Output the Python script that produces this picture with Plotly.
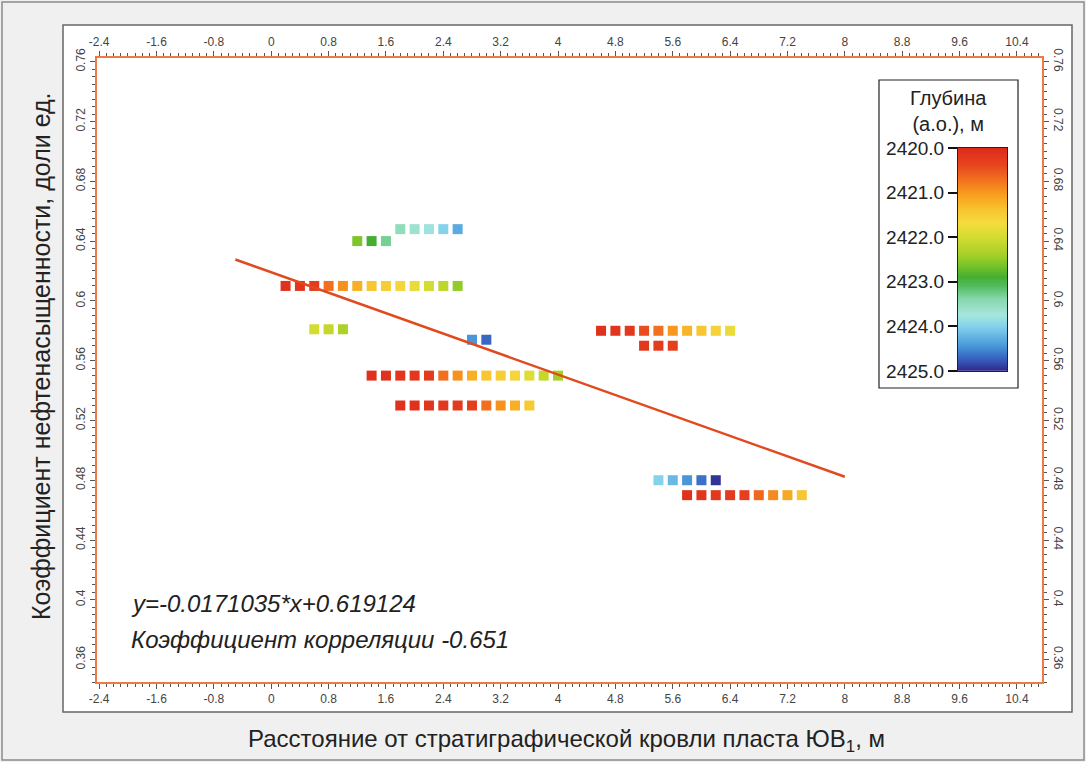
import plotly.graph_objects as go

# ---- measured samples: distance from stratigraphic top (m), oil saturation, depth (m a.s.l.)
row_a_x = [1.8, 2.0, 2.2, 2.4, 2.6]
row_a_y = [0.648] * 5
row_a_d = [2423.5, 2423.65, 2423.8, 2424.0, 2424.3]

row_b_x = [1.2, 1.4, 1.6]
row_b_y = [0.640] * 3
row_b_d = [2422.6, 2422.9, 2423.3]

row_c_x = [0.2, 0.4, 0.6, 0.8, 1.0, 1.2, 1.4, 1.6, 1.8, 2.0, 2.2, 2.4, 2.6]
row_c_y = [0.610] * 13
row_c_d = [2420.1, 2420.15, 2420.25, 2420.7, 2420.95, 2421.2, 2421.4, 2421.5,
           2421.6, 2421.8, 2422.0, 2422.2, 2422.5]

row_d_x = [0.6, 0.8, 1.0]
row_d_y = [0.581] * 3
row_d_d = [2422.0, 2422.15, 2422.35]

row_e_x = [2.8, 3.0]
row_e_y = [0.574] * 2
row_e_d = [2424.45, 2424.7]

row_f_x = [1.4, 1.6, 1.8, 2.0, 2.2, 2.4, 2.6, 2.8, 3.0, 3.2, 3.4, 3.6, 3.8, 4.0]
row_f_y = [0.550] * 14
row_f_d = [2420.1, 2420.1, 2420.15, 2420.2, 2420.25, 2420.7, 2420.95, 2421.2,
           2421.4, 2421.5, 2421.6, 2421.9, 2422.15, 2422.4]

row_g_x = [1.8, 2.0, 2.2, 2.4, 2.6, 2.8, 3.0, 3.2, 3.4, 3.6]
row_g_y = [0.530] * 10
row_g_d = [2420.1, 2420.1, 2420.15, 2420.2, 2420.25, 2420.3, 2420.7, 2420.95,
           2421.2, 2421.45]

row_h_x = [4.6, 4.8, 5.0, 5.2, 5.4, 5.6, 5.8, 6.0, 6.2, 6.4]
row_h_y = [0.580] * 10
row_h_d = [2420.1, 2420.15, 2420.2, 2420.45, 2420.7, 2421.0, 2421.25, 2421.4,
           2421.55, 2421.8]

row_i_x = [5.2, 5.4, 5.6]
row_i_y = [0.570] * 3
row_i_d = [2420.2, 2420.25, 2420.3]

row_j_x = [5.4, 5.6, 5.8, 6.0, 6.2]
row_j_y = [0.480] * 5
row_j_d = [2424.0, 2424.2, 2424.45, 2424.65, 2424.95]

row_k_x = [5.8, 6.0, 6.2, 6.4, 6.6, 6.8, 7.0, 7.2, 7.4]
row_k_y = [0.470] * 9
row_k_d = [2420.1, 2420.15, 2420.2, 2420.25, 2420.3, 2420.65, 2420.9, 2421.15, 2421.4]

# ---- linear fit reported for the samples
fit_slope = -0.0171035
fit_intercept = 0.619124
fit_r = -0.651
fit_x = [-0.5, 8.0]

# ---- axis ticks
x_ticks = [-2.4, -1.6, -0.8, 0, 0.8, 1.6, 2.4, 3.2, 4, 4.8, 5.6, 6.4, 7.2, 8, 8.8, 9.6, 10.4]
x_tick_text = ["-2.4", "-1.6", "-0.8", "0", "0.8", "1.6", "2.4", "3.2", "4", "4.8",
               "5.6", "6.4", "7.2", "8", "8.8", "9.6", "10.4"]
y_ticks = [0.36, 0.40, 0.44, 0.48, 0.52, 0.56, 0.60, 0.64, 0.68, 0.72, 0.76]
y_tick_text = ["0.36", "0.4", "0.44", "0.48", "0.52", "0.56", "0.6", "0.64", "0.68",
               "0.72", "0.76"]
depth_ticks = [2420, 2421, 2422, 2423, 2424, 2425]
depth_tick_text = ["2420.0", "2421.0", "2422.0", "2423.0", "2424.0", "2425.0"]
depth_min, depth_max = 2420.0, 2425.0

colorscale = [
    [0.00, "#dc2a1c"], [0.08, "#e8461e"], [0.15, "#f2761e"], [0.21, "#f89e1e"],
    [0.28, "#f8c630"], [0.34, "#f4dc3e"], [0.40, "#d4dc30"], [0.48, "#a6d028"],
    [0.54, "#6cc02a"], [0.58, "#44ae32"], [0.62, "#52bc5e"], [0.68, "#88d8ae"],
    [0.75, "#a6e6dc"], [0.80, "#86d2ec"], [0.88, "#4ca0dc"], [0.94, "#3868c4"],
    [1.00, "#2e2a8e"],
]

xs = (row_a_x + row_b_x + row_c_x + row_d_x + row_e_x + row_f_x + row_g_x
      + row_h_x + row_i_x + row_j_x + row_k_x)
ys = (row_a_y + row_b_y + row_c_y + row_d_y + row_e_y + row_f_y + row_g_y
      + row_h_y + row_i_y + row_j_y + row_k_y)
ds = (row_a_d + row_b_d + row_c_d + row_d_d + row_e_d + row_f_d + row_g_d
      + row_h_d + row_i_d + row_j_d + row_k_d)

W, H = 1086, 762
ML, MR, MT, MB = 97, 44, 58, 80
PW, PH = W - ML - MR, H - MT - MB


def px(xp):
    return (xp - ML) / PW


def py(yp):
    return (H - MB - yp) / PH


FONT = "Liberation Sans, Arial, sans-serif"
AXIS_LINE = "#ef7a45"
TICK_COLOR = "#555555"

fig = go.Figure()

fig.add_trace(go.Scatter(
    x=xs, y=ys, mode="markers",
    marker=dict(symbol="square", size=10, color=ds, colorscale=colorscale,
                cmin=depth_min, cmax=depth_max, line=dict(width=0)),
    showlegend=False, hoverinfo="x+y",
))

fig.add_trace(go.Scatter(
    x=fit_x, y=[fit_slope * v + fit_intercept for v in fit_x],
    mode="lines", line=dict(color="#e04a1e", width=2.5),
    showlegend=False, hoverinfo="skip",
))

# empty trace so the mirrored top/right axes get their own subplot
fig.add_trace(go.Scatter(x=[], y=[], xaxis="x2", yaxis="y2", showlegend=False,
                         hoverinfo="skip"))

# depth ramp drawn as a one-column heatmap on its own small axes
ramp = [depth_min + i * 0.01 for i in range(int((depth_max - depth_min) / 0.01) + 1)]
fig.add_trace(go.Heatmap(
    z=[[v] for v in ramp], x=[0], y=ramp, colorscale=colorscale,
    zmin=depth_min, zmax=depth_max, showscale=False,
    xaxis="x3", yaxis="y3", hoverinfo="skip",
))

common_x = dict(
    range=[-2.43, 10.75], tickmode="array", tickvals=x_ticks, ticktext=x_tick_text,
    ticks="outside", ticklen=5, tickwidth=1, tickcolor=TICK_COLOR,
    minor=dict(dtick=0.1, tick0=0, ticks="outside", ticklen=3, tickcolor=TICK_COLOR),
    showline=True, linecolor=AXIS_LINE, linewidth=1.5, showgrid=False, zeroline=False,
    tickfont=dict(family=FONT, size=12, color="#444444"),
)
common_y = dict(
    range=[0.345, 0.7625], tickmode="array", tickvals=y_ticks, ticktext=y_tick_text,
    ticks="outside", ticklen=5, tickwidth=1, tickcolor=TICK_COLOR,
    minor=dict(dtick=0.005, tick0=0, ticks="outside", ticklen=3, tickcolor=TICK_COLOR),
    showline=True, linecolor=AXIS_LINE, linewidth=1.5, showgrid=False, zeroline=False,
    tickfont=dict(family=FONT, size=12, color="#444444"),
)

fig.update_layout(
    width=W, height=H,
    margin=dict(l=ML, r=MR, t=MT, b=MB, pad=0),
    paper_bgcolor="#f0f0f0", plot_bgcolor="#ffffff",
    xaxis=dict(**common_x, side="bottom", anchor="y"),
    xaxis2=dict(**common_x, side="top", overlaying="x", matches="x", anchor="y2"),
    yaxis=dict(**common_y, side="left", tickangle=-90, anchor="x"),
    yaxis2=dict(**common_y, side="right", tickangle=90, overlaying="y", matches="y",
                anchor="x2"),
    xaxis3=dict(domain=[px(958), px(1007)], anchor="y3", range=[-0.5, 0.5],
                showticklabels=False, ticks="", showgrid=False, zeroline=False,
                showline=True, mirror=True, linecolor="#222222", linewidth=1),
    yaxis3=dict(domain=[py(371), py(148)], anchor="x3", range=[depth_max, depth_min],
                tickmode="array", tickvals=depth_ticks, ticktext=depth_tick_text,
                ticks="outside", ticklen=9, tickwidth=2, tickcolor="#111111",
                tickfont=dict(family=FONT, size=19, color="#222222"),
                showgrid=False, zeroline=False,
                showline=True, mirror=True, linecolor="#222222", linewidth=1),
    showlegend=False,
    shapes=[
        # outer page frame
        dict(type="rect", xref="paper", yref="paper", layer="below",
             x0=px(2), x1=px(1084), y0=py(760), y1=py(2),
             line=dict(color="#8a8a8a", width=1.5), fillcolor="rgba(0,0,0,0)"),
        # white chart panel
        dict(type="rect", xref="paper", yref="paper", layer="below",
             x0=px(63), x1=px(1072), y0=py(712), y1=py(25),
             line=dict(color="#666666", width=1.5), fillcolor="#ffffff"),
        # depth scale box
        dict(type="rect", xref="paper", yref="paper", layer="below",
             x0=px(879), x1=px(1018), y0=py(388), y1=py(80),
             line=dict(color="#222222", width=1.2), fillcolor="#ffffff"),
    ],
    annotations=[
        dict(xref="paper", yref="paper", x=px(948), y=py(111), showarrow=False,
             text="Глубина<br>(а.о.), м", align="center",
             xanchor="center", yanchor="middle",
             font=dict(family=FONT, size=20, color="#222222")),
        dict(xref="paper", yref="paper", x=px(129), y=py(603), showarrow=False,
             text=f"y={fit_slope}*x+{fit_intercept}", xanchor="left", yanchor="middle",
             font=dict(family=FONT, size=24, color="#222222", style="italic")),
        dict(xref="paper", yref="paper", x=px(129), y=py(639), showarrow=False,
             text=f"Коэффициент корреляции {fit_r}", xanchor="left", yanchor="middle",
             font=dict(family=FONT, size=24, color="#222222", style="italic")),
        dict(xref="paper", yref="paper", x=px(41), y=py(356), showarrow=False,
             text="Коэффициент нефтенасыщенности, доли ед.", textangle=-90,
             xanchor="center", yanchor="middle",
             font=dict(family=FONT, size=25, color="#222222")),
        dict(xref="paper", yref="paper", x=px(566), y=py(741), showarrow=False,
             text="Расстояние от стратиграфической кровли пласта ЮВ<sub>1</sub>, м",
             xanchor="center", yanchor="middle",
             font=dict(family=FONT, size=24, color="#222222")),
    ],
)

fig.write_html("out.html")
